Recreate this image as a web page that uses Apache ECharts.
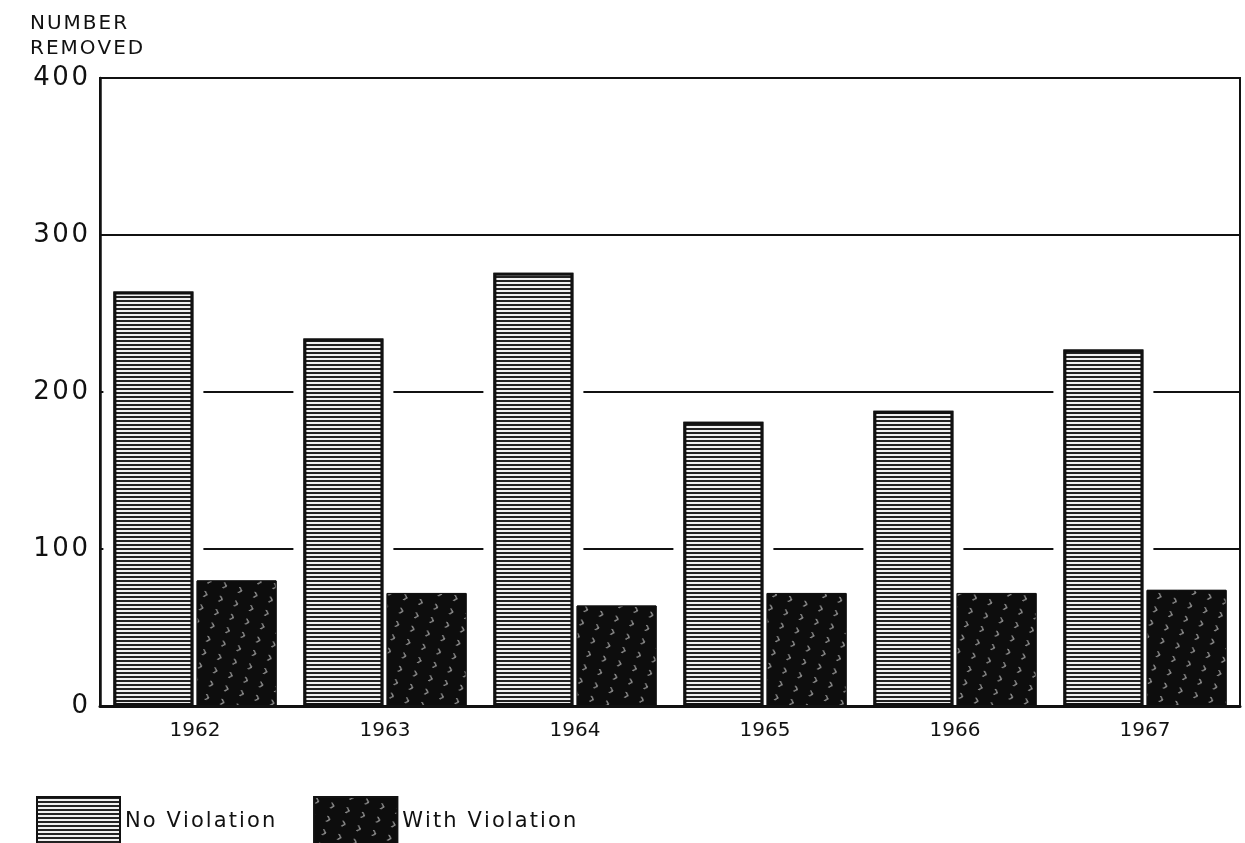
<!DOCTYPE html>
<html>
<head>
<meta charset="utf-8">
<title>Number removed</title>
<script src="https://cdn.jsdelivr.net/npm/echarts@6/dist/echarts.min.js"></script>
<style>
html, body { margin: 0; padding: 0; background: #fff; }
#main { width: 1245px; height: 843px; }
</style>
</head>
<body>
<div id="main"></div>
<script>
// data
var years = ['1962', '1963', '1964', '1965', '1966', '1967'];
var noViolation = [264, 234, 276, 181, 188, 227];
var withViolation = [80, 72, 64, 72, 72, 74];
var yMin = 0, yMax = 400, yStep = 100;

var ink = '#111';
var font = 'DejaVu Sans';
var barW = 80;
var gapPct = 4;        // barGap in %
var pad = 10;          // white margin where the grid lines stop short of the bars

// the lettering on the original is widely spaced, so put a hair space between letters
function spread(s) {
    return String(s).split('').join('\u200A');
}

var chart = echarts.init(document.getElementById('main'));

// white patches that cut the 100/200 lines around the "no violation" bars
var maskData = noViolation.map(function (v, i) { return [i, v]; });

function renderMask(params, api) {
    var i = api.value(0);
    var top = api.coord([i, api.value(1)]);
    var base = api.coord([i, 0]);
    var gap = barW * gapPct / 100;
    var left = top[0] - (2 * barW + gap) / 2;
    return {
        type: 'rect',
        shape: {
            x: left - pad,
            y: top[1] - pad,
            width: barW + 2 * pad,
            height: base[1] - top[1] + pad - 3
        },
        style: { fill: '#fff' }
    };
}

var option = {
    backgroundColor: '#fff',
    animation: false,
    textStyle: { fontFamily: font },
    graphic: [{
        type: 'text',
        left: 30,
        top: 11,
        style: {
            text: spread('NUMBER') + '\n' + spread('REMOVED'),
            font: '20px "DejaVu Sans"',
            lineHeight: 25,
            fill: ink
        }
    }],
    legend: {
        left: 31,
        top: 791,
        itemWidth: 83,
        itemHeight: 50,
        itemGap: 38,
        icon: 'rect',
        data: ['No Violation', 'With Violation'],
        formatter: function (name) { return spread(name); },
        textStyle: { fontSize: 21, color: ink, fontFamily: font }
    },
    grid: {
        left: 100,
        right: 5,
        top: 78,
        bottom: 137,
        show: true,
        borderColor: ink,
        borderWidth: 2
    },
    xAxis: {
        type: 'category',
        data: years,
        axisTick: { show: false },
        axisLine: { lineStyle: { color: ink, width: 3 } },
        axisLabel: { fontSize: 20, color: ink, margin: 15, fontFamily: font }
    },
    yAxis: {
        type: 'value',
        min: yMin,
        max: yMax,
        interval: yStep,
        axisTick: { show: false },
        axisLine: { show: true, lineStyle: { color: ink, width: 2.5 } },
        axisLabel: {
            fontSize: 26,
            color: ink,
            margin: 12,
            fontFamily: font,
            formatter: function (v) { return spread(v); }
        },
        splitLine: { lineStyle: { color: ink, width: 2.2 } }
    },
    series: [
        {
            type: 'custom',
            name: 'mask',
            silent: true,
            z: 1,
            clip: false,
            renderItem: renderMask,
            encode: { x: 0, y: 1 },
            data: maskData
        },
        {
            name: 'No Violation',
            type: 'bar',
            z: 3,
            barWidth: barW,
            barGap: gapPct + '%',
            data: noViolation,
            itemStyle: {
                color: '#fff',
                borderColor: ink,
                borderWidth: 3,
                decal: {
                    symbol: 'rect',
                    symbolSize: 1,
                    color: '#222',
                    backgroundColor: '#f0f0f0',
                    dashArrayX: [1, 0],
                    dashArrayY: [1.6, 1.4],
                    rotation: 0
                }
            }
        },
        {
            name: 'With Violation',
            type: 'bar',
            z: 3,
            barWidth: barW,
            data: withViolation,
            itemStyle: {
                color: '#0d0d0d',
                borderColor: ink,
                borderWidth: 1,
                decal: {
                    symbol: 'path://M0,0 L2,0 L7,5 L2,10 L0,10 L5,5 Z',
                    symbolSize: 1,
                    color: 'rgba(255,255,255,0.8)',
                    backgroundColor: '#0d0d0d',
                    dashArrayX: [[8, 8]],
                    dashArrayY: [6, 8],
                    rotation: 0.3
                }
            }
        }
    ]
};

chart.setOption(option);
</script>
</body>
</html>
